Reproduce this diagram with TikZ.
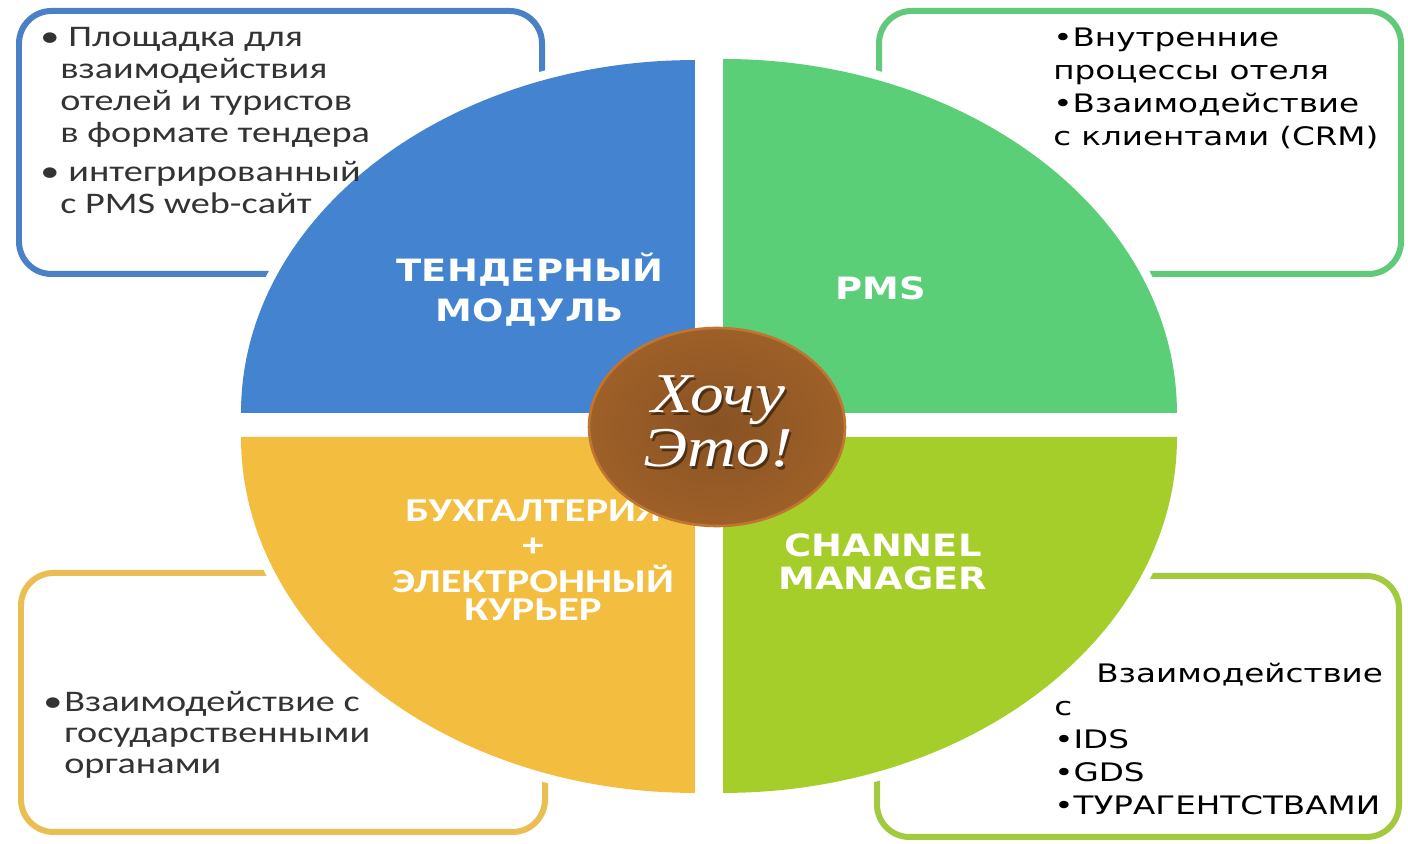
\documentclass[tikz,border=0pt]{standalone}
\usepackage{fontspec}
\setmainfont{Carlito}
\newfontfamily\boxfont{Carlito}[FakeStretch=1.28]
\newfontfamily\sidefont{DejaVu Sans}[FakeStretch=1.28]
\newfontfamily\headfont{DejaVu Sans}[FakeStretch=1.2]
\newfontfamily\wishfont{Liberation Serif}[FakeStretch=1.2]
\usetikzlibrary{shapes.geometric}
\definecolor{blueq}{RGB}{68,131,208}
\definecolor{greenq}{RGB}{91,206,120}
\definecolor{yellowq}{RGB}{243,189,64}
\definecolor{limeq}{RGB}{166,206,42}
\definecolor{blueb}{RGB}{74,128,198}
\definecolor{greenb}{RGB}{96,202,122}
\definecolor{yellowb}{RGB}{234,190,82}
\definecolor{limeb}{RGB}{162,202,62}
\definecolor{brownin}{RGB}{136,82,36}
\definecolor{brownout}{RGB}{158,96,40}
\definecolor{brownrim}{RGB}{192,118,48}
\begin{document}
\begin{tikzpicture}[x=0.02cm, y=0.02cm,
  boxline/.style={line width=0.12cm, rounded corners=0.65cm},
  quad/.style={preaction={draw=white, line width=0.36cm}},
  lbl/.style={anchor=base, inner sep=0pt, text=white},
  note/.style={anchor=base west, inner sep=0pt}]
\useasboundingbox (0,0) rectangle (1408,844);
\fill[white] (0,0) rectangle (1408,844);
\draw[boxline, draw=blueb] (19,570) rectangle (542,833);
\draw[boxline, draw=greenb] (879,570) rectangle (1401,833);
\draw[boxline, draw=yellowb] (21,12) rectangle (545,271);
\draw[boxline, draw=limeb] (877,7) rectangle (1399,268);
\fill[quad, blueq] (695,431) -- (241,431) arc[start angle=180, end angle=90, x radius=9.08cm, y radius=7.06cm] -- cycle;
\fill[quad, greenq] (723,431) -- (723,785) arc[start angle=90, end angle=0, x radius=9.08cm, y radius=7.08cm] -- cycle;
\fill[quad, yellowq] (695,407) -- (241,407) arc[start angle=180, end angle=270, x radius=9.08cm, y radius=7.12cm] -- cycle;
\fill[quad, limeq] (723,407) -- (1177,407) arc[start angle=0, end angle=-90, x radius=9.08cm, y radius=7.12cm] -- cycle;
\node[note, text=black!80] (tlnote) at (40,797) {\parbox[t]{9cm}{\raggedright\boxfont\fontsize{17}{18.1}\selectfont
\makebox[0.56cm][l]{•}Площадка для\\
\hspace*{0.4cm}взаимодействия\\
\hspace*{0.4cm}отелей и туристов\\
\hspace*{0.4cm}в формате тендера\\[4pt]
\makebox[0.56cm][l]{•}интегрированный\\
\hspace*{0.4cm}с PMS web-сайт}};
\node[note, text=black] (trnote) at (1053,797) {\parbox[t]{6.5cm}{\raggedright\sidefont\fontsize{14.5}{18.7}\selectfont
•Внутренние\\процессы отеля\\•Взаимодействие\\с клиентами (CRM)}};
\node[note, text=black!80] (blnote) at (43,132) {\parbox[t]{9cm}{\raggedright\boxfont\fontsize{17}{17.6}\selectfont
\makebox[0.42cm][l]{•}Взаимодействие с\\
\hspace*{0.42cm}государственными\\
\hspace*{0.42cm}органами}};
\node[note, text=black] (brnote) at (1054,161) {\parbox[t]{6.8cm}{\raggedright\sidefont\fontsize{14.5}{18.7}\selectfont
\hspace*{0.84cm}Взаимодействие\\с\\•IDS\\•GDS\\•ТУРАГЕНТСТВАМИ}};
\node[lbl] (tender) at (530,562) {\parbox[t]{7cm}{\centering\headfont\bfseries\fontsize{17.5}{22.7}\selectfont ТЕНДЕРНЫЙ\\МОДУЛЬ}};
\node[lbl] (pms) at (881,544) {\headfont\bfseries\fontsize{17.5}{21}\selectfont PMS};
\node[lbl] (channel) at (883,287) {\parbox[t]{7cm}{\centering\headfont\bfseries\fontsize{17.5}{18.7}\selectfont CHANNEL\\MANAGER}};
\node[lbl] (buh) at (533,322) {\parbox[t]{7cm}{\centering\boxfont\bfseries\fontsize{19}{15.9}\selectfont БУХГАЛТЕРИЯ\\[4pt]+\\[4.5pt]ЭЛЕКТРОННЫЙ\\КУРЬЕР}};
\node[ellipse, minimum width=5.12cm, minimum height=3.96cm, inner color=brownin, outer color=brownout, draw=brownrim, line width=1.5pt] (wishdisc) at (717,417) {};
\node[lbl, text=black, opacity=0.45] (wishshade) at (720,428) {\parbox[t]{5cm}{\centering\wishfont\itshape\fontsize{32}{30.6}\selectfont Хочу\\Это!}};
\node[lbl] (wish) at (718,431) {\parbox[t]{5cm}{\centering\wishfont\itshape\fontsize{32}{30.6}\selectfont Хочу\\Это!}};
\end{tikzpicture}
\end{document}
